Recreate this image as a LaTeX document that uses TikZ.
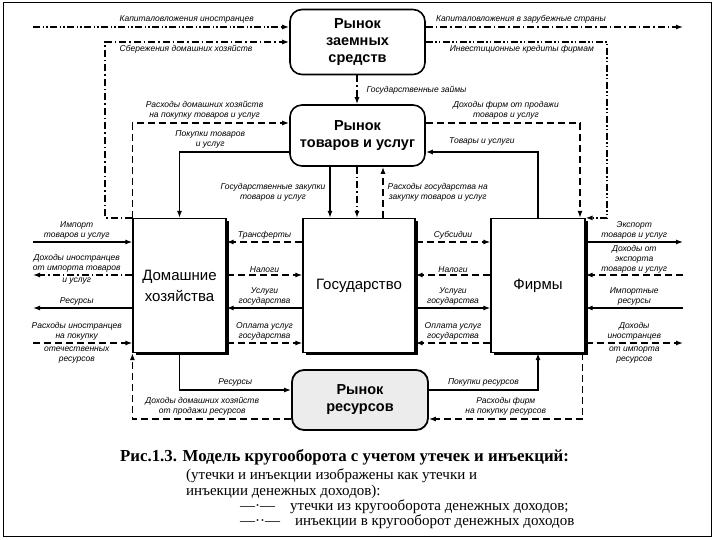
\documentclass[tikz,border=0pt]{standalone}
\usepackage{fontspec}
\setmainfont{Liberation Serif}
\setsansfont{Liberation Sans}
\usetikzlibrary{arrows.meta, positioning, calc, shadows}

\begin{document}
\begin{tikzpicture}[
    x=1pt, y=-1pt,
    market/.style={
        rectangle, rounded corners=12pt,
        draw, line width=1.6pt, fill=white,
        minimum width=135pt, inner sep=2pt,
        font=\sffamily\bfseries\fontsize{14.5}{17}\selectfont, align=center
    },
    sector/.style={
        rectangle, draw, line width=1.2pt, fill=white,
        drop shadow={shadow xshift=2.5pt, shadow yshift=-2.5pt, opacity=1, fill=black},
        minimum height=134pt,
        font=\sffamily\fontsize{15}{21}\selectfont, align=center
    },
    arrow/.style={-{Latex[length=7pt,width=5pt]}, line width=1.3pt},
    money/.style={arrow, dash pattern=on 7pt off 4pt},
    leak/.style={arrow, dash pattern=on 7pt off 3pt on 1.5pt off 3pt},
    inject/.style={arrow, dash pattern=on 7pt off 2.5pt on 1.5pt off 2pt on 1.5pt off 2.5pt},
    lbl/.style={font=\sffamily\itshape\fontsize{8.5}{10.5}\selectfont, align=center, inner sep=1pt},
    capline/.style={anchor=west, inner sep=0pt, font=\fontsize{15}{17}\selectfont}
]
\useasboundingbox (0,0) rectangle (720,540);
\draw[line width=1pt] (3,3) rectangle (711,536);

% Nodes
\node[market, minimum height=65pt] (loan) at (357.5,42) {Рынок\\заемных\\средств};
\node[market, minimum height=61pt] (goods) at (357.5,135.5) {Рынок\\товаров и услуг};
\node[sector, minimum width=93pt] (hh) at (179.5,285.5) {Домашние\\хозяйства};
\node[sector, minimum width=112pt] (gov) at (359,285.5) {Государство};
\node[sector, minimum width=94pt] (firms) at (538,285.5) {Фирмы};
\node[market, minimum width=136pt, minimum height=60pt, line width=1.8pt, fill=gray!15] (res) at (360,400) {Рынок\\ресурсов};

% Levels and columns
\coordinate (yKi) at (0,27);
\coordinate (ySav) at (0,42);
\coordinate (yRh) at (0,123);
\coordinate (yBuy) at (0,152);
\coordinate (yTr) at (0,242);
\coordinate (yTax) at (0,275);
\coordinate (ySvc) at (0,308);
\coordinate (yPay) at (0,343);
\coordinate (yRes) at (0,390);
\coordinate (yInc) at (0,419);
\coordinate (xL) at (33,0);
\coordinate (xR) at (683,0);
\coordinate (xSav) at (105,0);
\coordinate (xInv) at (607,0);
\coordinate (xFr) at (580,0);
\coordinate (xGl) at (357,0);
\coordinate (xGp) at (330,0);
\coordinate (xGe) at (383,0);

% Loan market
\draw[inject] (xL |- yKi) -- (loan.west |- yKi) node[lbl, pos=0.6, above=2pt] {Капиталовложения иностранцев};
\draw[leak] (hh.north west) -| (xSav |- ySav) -- (loan.west |- ySav) node[lbl, pos=0.44, below=2pt] {Сбережения домашних хозяйств};
\draw[leak] (loan.east |- yKi) -- (xR |- yKi) node[lbl, pos=0.37, above=2pt] {Капиталовложения в зарубежные страны};
\draw[inject] (loan.east |- ySav) -- (xInv |- ySav) node[lbl, pos=0.53, below=2pt] {Инвестиционные кредиты фирмам}
    -- (xInv |- firms.north) -- (firms.north east);
\draw[leak] (loan.south -| xGl) -- (goods.north -| xGl) node[lbl, midway, right=8pt] {Государственные займы};
\draw[leak] (goods.south -| xGl) -- (gov.north -| xGl);

% Goods market
\draw[money] (hh.north west) |- (goods.west |- yRh) node[lbl, pos=0.73, above=2pt] {Расходы домашних хозяйств\\на покупку товаров и услуг};
\draw[arrow] (goods.west |- yBuy) -| (hh.north) node[lbl, pos=0.36, above=2pt] {Покупки товаров\\и услуг};
\draw[money] (goods.east |- yRh) -| (xFr |- firms.north) node[lbl, pos=0.26, above=2pt] {Доходы фирм от продажи\\товаров и услуг};
\draw[arrow] (firms.north) |- (goods.east |- yBuy) node[lbl, pos=0.75, above=5pt] {Товары и услуги};
\draw[arrow] (goods.south -| xGp) -- (gov.north -| xGp) node[lbl, midway, left=3pt] {Государственные закупки\\товаров и услуг};
\draw[money] (gov.north -| xGe) -- (goods.south -| xGe) node[lbl, midway, right=3pt] {Расходы государства на\\закупку товаров и услуг};

% Households and government
\draw[money] (gov.west |- yTr) -- (hh.east |- yTr) node[lbl, midway, above=1pt] {Трансферты};
\draw[money] (hh.east |- yTax) -- (gov.west |- yTax) node[lbl, midway, above=1pt] {Налоги};
\draw[arrow] (gov.west |- ySvc) -- (hh.east |- ySvc) node[lbl, midway, above=1pt] {Услуги\\государства};
\draw[money] (hh.east |- yPay) -- (gov.west |- yPay) node[lbl, midway, above=1pt] {Оплата услуг\\государства};

% Government and firms
\draw[money] (gov.east |- yTr) -- (firms.west |- yTr) node[lbl, midway, above=1pt] {Субсидии};
\draw[money] (firms.west |- yTax) -- (gov.east |- yTax) node[lbl, midway, above=1pt] {Налоги};
\draw[arrow] (gov.east |- ySvc) -- (firms.west |- ySvc) node[lbl, midway, above=1pt] {Услуги\\государства};
\draw[money] (firms.west |- yPay) -- (gov.east |- yPay) node[lbl, midway, above=1pt] {Оплата услуг\\государства};

% Households and abroad
\draw[arrow] (xL |- yTr) -- (hh.west |- yTr) node[lbl, pos=0.44, above=1pt] {Импорт\\товаров и услуг};
\draw[leak] (hh.west |- yTax) -- (xL |- yTax) node[lbl, pos=0.56, above=1pt] {Доходы иностранцев\\от импорта товаров}
    node[lbl, pos=0.56, below=1pt] {и услуг};
\draw[arrow] (hh.west |- ySvc) -- (xL |- ySvc) node[lbl, pos=0.56, above=1pt] {Ресурсы};
\draw[money] (xL |- yPay) -- (hh.west |- yPay) node[lbl, pos=0.44, above=1pt] {Расходы иностранцев\\на покупку}
    node[lbl, pos=0.44, below=2pt] {отечественных\\ресурсов};

% Firms and abroad
\draw[arrow] (firms.east |- yTr) -- (xR |- yTr) node[lbl, midway, above=1pt] {Экспорт\\товаров и услуг};
\draw[money] (xR |- yTax) -- (firms.east |- yTax) node[lbl, midway, above=0pt, font=\sffamily\itshape\fontsize{8.5}{9.8}\selectfont] {Доходы от\\экспорта\\товаров и услуг};
\draw[arrow] (xR |- ySvc) -- (firms.east |- ySvc) node[lbl, midway, above=1pt] {Импортные\\ресурсы};
\draw[money] (firms.east |- yPay) -- (xR |- yPay) node[lbl, midway, above=1pt] {Доходы\\иностранцев}
    node[lbl, midway, below=2pt] {от импорта\\ресурсов};

% Resource market
\draw[arrow] (hh.south) |- (res.west |- yRes) node[lbl, pos=0.75, above=2pt] {Ресурсы};
\draw[money] (res.west |- yInc) -| (hh.south west) node[lbl, pos=0.28, above=2pt] {Доходы домашних хозяйств\\от продажи ресурсов};
\draw[arrow] (res.east |- yRes) -| (firms.south) node[lbl, pos=0.25, above=2pt] {Покупки ресурсов};
\draw[money] ([xshift=-3pt]firms.south east) |- (res.east |- yInc) node[lbl, pos=0.75, above=2pt] {Расходы фирм\\на покупку ресурсов};

% Caption
\node[capline, font=\bfseries\fontsize{16.8}{18}\selectfont] (cap1) at (120,457) {Рис.1.3. Модель кругооборота с учетом утечек и инъекций:};
\node[capline] (cap2) at (186,476) {(утечки и инъекции изображены как утечки и};
\node[capline] (cap3) at (186,492) {инъекции денежных доходов):};
\node[capline] (cap4) at (240,507) {—·—\quad утечки из кругооборота денежных доходов;};
\node[capline] (cap5) at (240,522) {—··—\quad инъекции в кругооборот денежных доходов};

\end{tikzpicture}
\end{document}
